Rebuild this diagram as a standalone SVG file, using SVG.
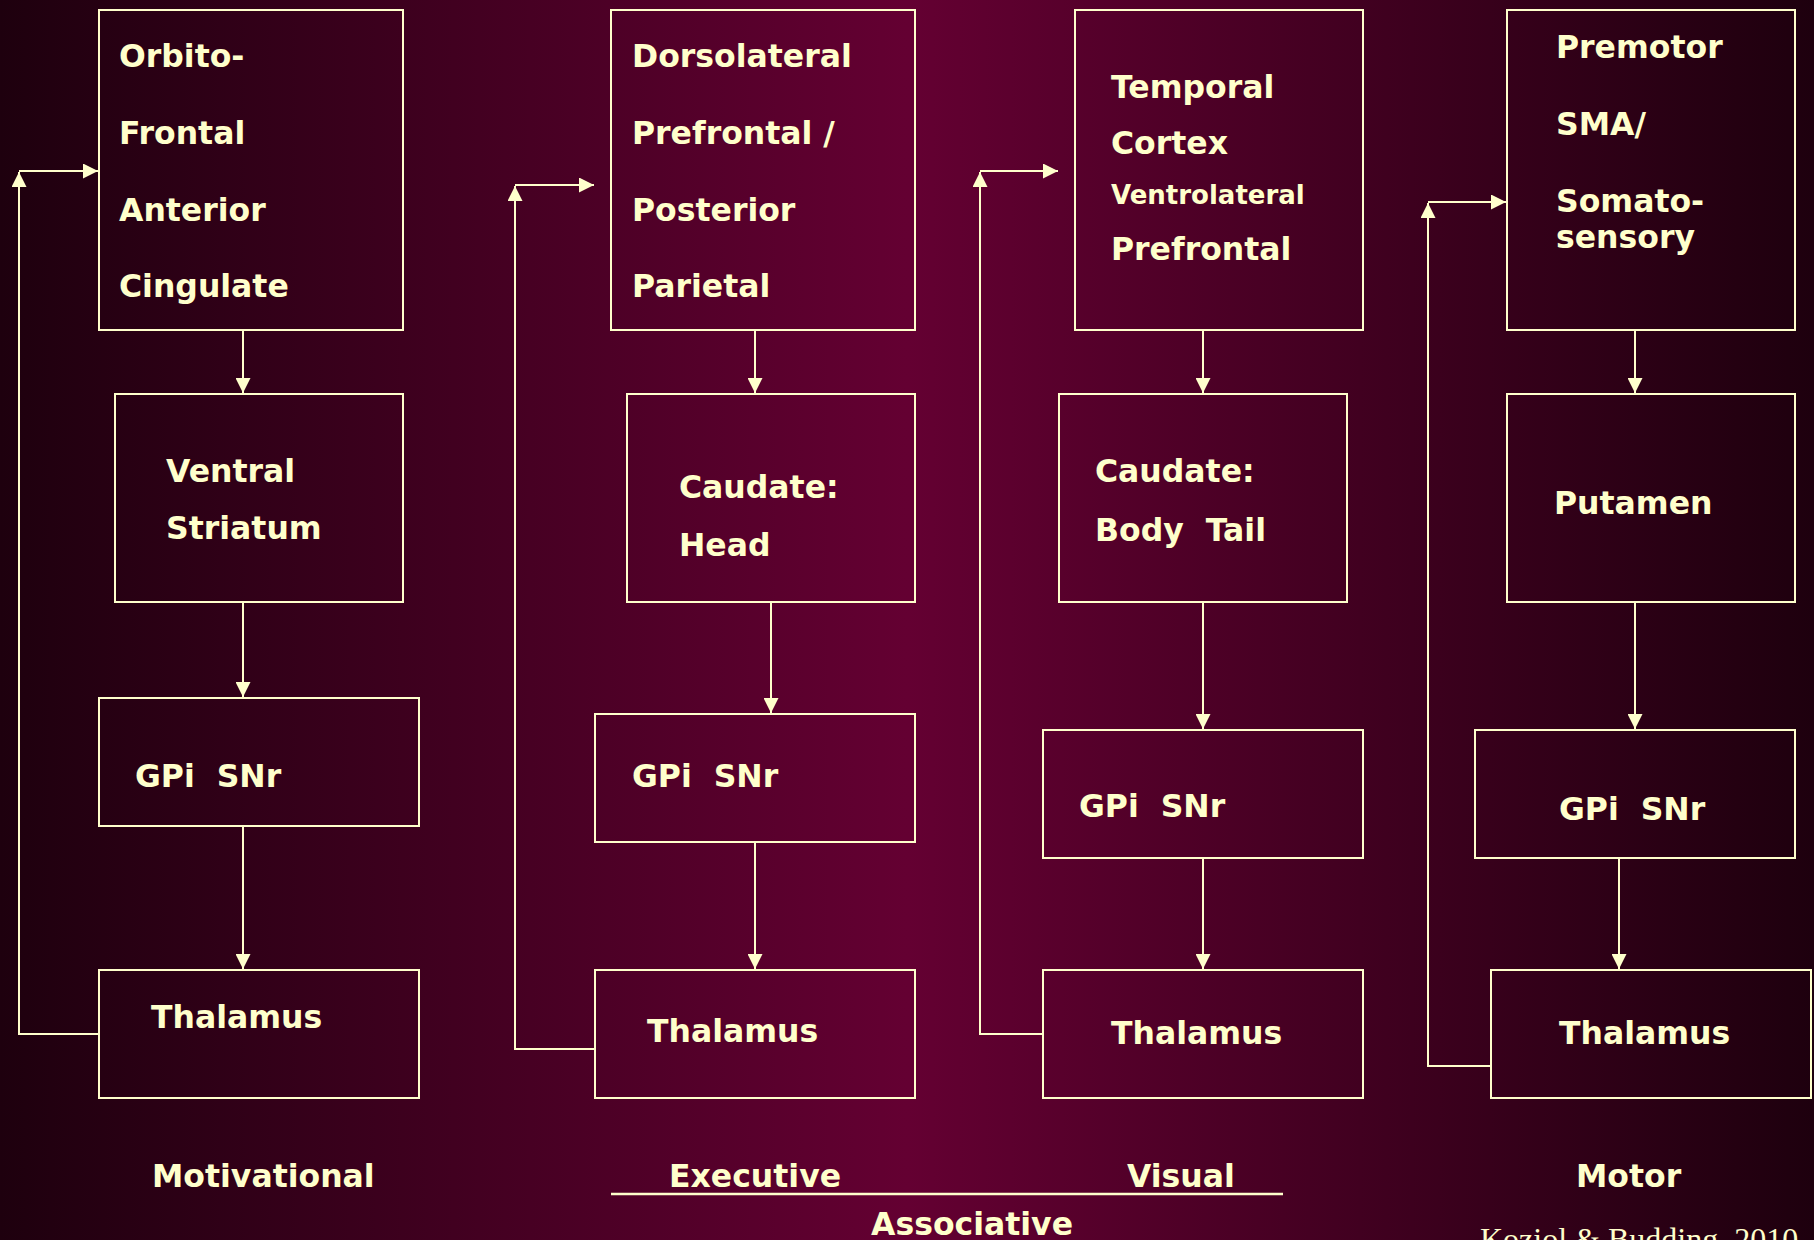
<svg xmlns="http://www.w3.org/2000/svg" width="1814" height="1240" viewBox="0 0 1814 1240">
  <defs>
    <linearGradient id="bg" x1="0" y1="0" x2="1" y2="0">
      <stop offset="0" stop-color="#1e000e"/>
      <stop offset="0.5" stop-color="#640032"/>
      <stop offset="1" stop-color="#1e000e"/>
    </linearGradient>
    <marker id="ah" viewBox="0 0 10 10" refX="10" refY="5" markerWidth="15" markerHeight="15" markerUnits="userSpaceOnUse" orient="auto">
      <path d="M0,0 L10,5 L0,10 Z" fill="#ffffcc"/>
    </marker>
    <style>
      .box { fill: none; stroke: #ffffcc; stroke-width: 2; }
      .conn { fill: none; stroke: #ffffcc; stroke-width: 2; }
      .lbl { fill: #ffffcc; font-family: "DejaVu Sans", Verdana, sans-serif; font-weight: bold; font-size: 31.5px; white-space: pre; }
      .small { font-size: 26px; }
      .cite { fill: #ffffcc; font-family: "Liberation Serif", "Times New Roman", serif; font-size: 32px; }
    </style>
  </defs>

  <rect x="0" y="0" width="1814" height="1240" fill="url(#bg)"/>

  <!-- Motivational loop -->
  <g id="orbitofrontal">
    <rect class="box" x="99" y="10" width="304" height="320"/>
    <text class="lbl" x="119" y="67">Orbito-</text>
    <text class="lbl" x="119" y="144">Frontal</text>
    <text class="lbl" x="119" y="221">Anterior</text>
    <text class="lbl" x="119" y="297">Cingulate</text>
  </g>
  <g id="ventral-striatum">
    <rect class="box" x="115" y="394" width="288" height="208"/>
    <text class="lbl" x="166" y="482">Ventral</text>
    <text class="lbl" x="166" y="539">Striatum</text>
  </g>
  <g id="gpi-snr-1">
    <rect class="box" x="99" y="698" width="320" height="128"/>
    <text class="lbl" x="135" y="787">GPi  SNr</text>
  </g>
  <g id="thalamus-1">
    <rect class="box" x="99" y="970" width="320" height="128"/>
    <text class="lbl" x="151" y="1028">Thalamus</text>
  </g>

  <!-- Executive loop -->
  <g id="dorsolateral">
    <rect class="box" x="611" y="10" width="304" height="320"/>
    <text class="lbl" x="632" y="67">Dorsolateral</text>
    <text class="lbl" x="632" y="144">Prefrontal /</text>
    <text class="lbl" x="632" y="221">Posterior</text>
    <text class="lbl" x="632" y="297">Parietal</text>
  </g>
  <g id="caudate-head">
    <rect class="box" x="627" y="394" width="288" height="208"/>
    <text class="lbl" x="679" y="498">Caudate:</text>
    <text class="lbl" x="679" y="556">Head</text>
  </g>
  <g id="gpi-snr-2">
    <rect class="box" x="595" y="714" width="320" height="128"/>
    <text class="lbl" x="632" y="787">GPi  SNr</text>
  </g>
  <g id="thalamus-2">
    <rect class="box" x="595" y="970" width="320" height="128"/>
    <text class="lbl" x="647" y="1042">Thalamus</text>
  </g>

  <!-- Visual loop -->
  <g id="temporal">
    <rect class="box" x="1075" y="10" width="288" height="320"/>
    <text class="lbl" x="1111" y="98">Temporal</text>
    <text class="lbl" x="1111" y="154">Cortex</text>
    <text class="lbl small" x="1111" y="204">Ventrolateral</text>
    <text class="lbl" x="1111" y="260">Prefrontal</text>
  </g>
  <g id="caudate-body-tail">
    <rect class="box" x="1059" y="394" width="288" height="208"/>
    <text class="lbl" x="1095" y="482">Caudate:</text>
    <text class="lbl" x="1095" y="541">Body  Tail</text>
  </g>
  <g id="gpi-snr-3">
    <rect class="box" x="1043" y="730" width="320" height="128"/>
    <text class="lbl" x="1079" y="817">GPi  SNr</text>
  </g>
  <g id="thalamus-3">
    <rect class="box" x="1043" y="970" width="320" height="128"/>
    <text class="lbl" x="1111" y="1044">Thalamus</text>
  </g>

  <!-- Motor loop -->
  <g id="premotor">
    <rect class="box" x="1507" y="10" width="288" height="320"/>
    <text class="lbl" x="1556" y="58">Premotor</text>
    <text class="lbl" x="1556" y="135">SMA/</text>
    <text class="lbl" x="1556" y="212">Somato-</text>
    <text class="lbl" x="1556" y="248">sensory</text>
  </g>
  <g id="putamen">
    <rect class="box" x="1507" y="394" width="288" height="208"/>
    <text class="lbl" x="1554" y="514">Putamen</text>
  </g>
  <g id="gpi-snr-4">
    <rect class="box" x="1475" y="730" width="320" height="128"/>
    <text class="lbl" x="1559" y="820">GPi  SNr</text>
  </g>
  <g id="thalamus-4">
    <rect class="box" x="1491" y="970" width="320" height="128"/>
    <text class="lbl" x="1559" y="1044">Thalamus</text>
  </g>

  <!-- Connectors: forward chain and thalamic feedback -->
  <g id="connectors">
    <line class="conn" x1="243" y1="330" x2="243" y2="393" marker-end="url(#ah)"/>
    <line class="conn" x1="243" y1="602" x2="243" y2="697" marker-end="url(#ah)"/>
    <line class="conn" x1="243" y1="826" x2="243" y2="969" marker-end="url(#ah)"/>
    <polyline class="conn" points="99,1034 19,1034 19,172" marker-end="url(#ah)"/>
    <line class="conn" x1="19" y1="171" x2="98" y2="171" marker-end="url(#ah)"/>

    <line class="conn" x1="755" y1="330" x2="755" y2="393" marker-end="url(#ah)"/>
    <line class="conn" x1="771" y1="602" x2="771" y2="713" marker-end="url(#ah)"/>
    <line class="conn" x1="755" y1="842" x2="755" y2="969" marker-end="url(#ah)"/>
    <polyline class="conn" points="595,1049 515,1049 515,186" marker-end="url(#ah)"/>
    <line class="conn" x1="515" y1="185" x2="594" y2="185" marker-end="url(#ah)"/>

    <line class="conn" x1="1203" y1="330" x2="1203" y2="393" marker-end="url(#ah)"/>
    <line class="conn" x1="1203" y1="602" x2="1203" y2="729" marker-end="url(#ah)"/>
    <line class="conn" x1="1203" y1="858" x2="1203" y2="969" marker-end="url(#ah)"/>
    <polyline class="conn" points="1043,1034 980,1034 980,172" marker-end="url(#ah)"/>
    <line class="conn" x1="980" y1="171" x2="1058" y2="171" marker-end="url(#ah)"/>

    <line class="conn" x1="1635" y1="330" x2="1635" y2="393" marker-end="url(#ah)"/>
    <line class="conn" x1="1635" y1="602" x2="1635" y2="729" marker-end="url(#ah)"/>
    <line class="conn" x1="1619" y1="858" x2="1619" y2="969" marker-end="url(#ah)"/>
    <polyline class="conn" points="1491,1066 1428,1066 1428,203" marker-end="url(#ah)"/>
    <line class="conn" x1="1428" y1="202" x2="1506" y2="202" marker-end="url(#ah)"/>
  </g>

  <!-- Loop names -->
  <g id="loop-names">
    <text class="lbl" x="152" y="1187">Motivational</text>
    <text class="lbl" x="669" y="1187">Executive</text>
    <text class="lbl" x="1127" y="1187">Visual</text>
    <text class="lbl" x="1576" y="1187">Motor</text>
    <line x1="611" y1="1194" x2="1283" y2="1194" stroke="#ffffcc" stroke-width="2.5"/>
    <text class="lbl" x="871" y="1235">Associative</text>
    <text class="cite" x="1480" y="1250">Koziol &amp; Budding, 2010</text>
  </g>
</svg>
